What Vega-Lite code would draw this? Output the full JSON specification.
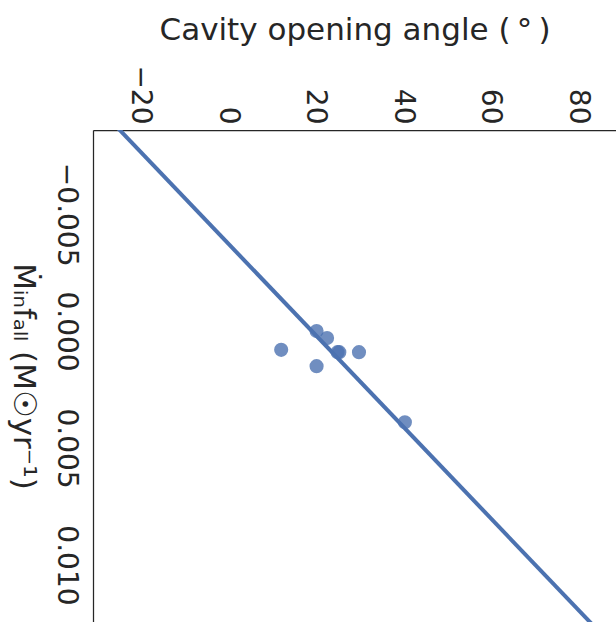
{
  "$schema": "https://vega.github.io/schema/vega-lite/v6.json",
  "width": 523,
  "height": 492,
  "autosize": {"type": "none"},
  "padding": {"left": 93, "top": 130, "right": 0, "bottom": 0},
  "background": "white",
  "config": {
    "view": {"stroke": null},
    "font": "DejaVu Sans",
    "axis": {
      "labelFont": "DejaVu Sans",
      "titleFont": "DejaVu Sans",
      "labelFontSize": 28,
      "titleFontSize": 31,
      "titleFontWeight": "normal",
      "labelColor": "#262626",
      "titleColor": "#262626",
      "domainColor": "#262626",
      "domainWidth": 1.25,
      "ticks": false,
      "grid": false
    }
  },
  "datasets": {
    "pts": [
      {"angle": 12.3, "mdot": 0.0008},
      {"angle": 20.4, "mdot": 0.0000},
      {"angle": 22.8, "mdot": 0.0003},
      {"angle": 25.2, "mdot": 0.0009},
      {"angle": 25.6, "mdot": 0.0009},
      {"angle": 20.4, "mdot": 0.0015},
      {"angle": 30.1, "mdot": 0.0009},
      {"angle": 40.6, "mdot": 0.0039}
    ],
    "fit": [
      {"angle": -31.8, "mdot": -0.010},
      {"angle": 85.8, "mdot": 0.013}
    ]
  },
  "encoding": {
    "x": {
      "field": "angle",
      "type": "quantitative",
      "scale": {"domain": [-30.75, 88.9], "nice": false, "zero": false},
      "axis": {
        "orient": "top",
        "title": "Cavity opening angle (\u2009°\u2009)",
        "values": [-20, 0, 20, 40, 60, 80],
        "labelAngle": 90,
        "labelAlign": "right",
        "labelBaseline": "middle",
        "labelPadding": 6,
        "titlePadding": 18,
        "labelExpr": "replace(datum.label, '-', '−')"
      }
    },
    "y": {
      "field": "mdot",
      "type": "quantitative",
      "scale": {"domain": [-0.0086, 0.01244], "nice": false, "zero": false, "reverse": true},
      "axis": {
        "orient": "left",
        "title": "Ṁᵢₙfₐₗₗ (M☉yr⁻¹)",
        "values": [-0.005, 0, 0.005, 0.01],
        "format": ".3f",
        "labelAngle": 90,
        "labelAlign": "center",
        "labelBaseline": "top",
        "labelPadding": 14,
        "titleAngle": 90,
        "titleBaseline": "top",
        "titlePadding": 14,
        "labelExpr": "replace(datum.label, '-', '−')"
      }
    }
  },
  "layer": [
    {
      "data": {"name": "fit"},
      "mark": {"type": "line", "color": "#4C72B0", "strokeWidth": 4, "clip": true}
    },
    {
      "data": {"name": "pts"},
      "mark": {"type": "circle", "color": "#4C72B0", "opacity": 0.8, "size": 200, "clip": true}
    }
  ]
}
